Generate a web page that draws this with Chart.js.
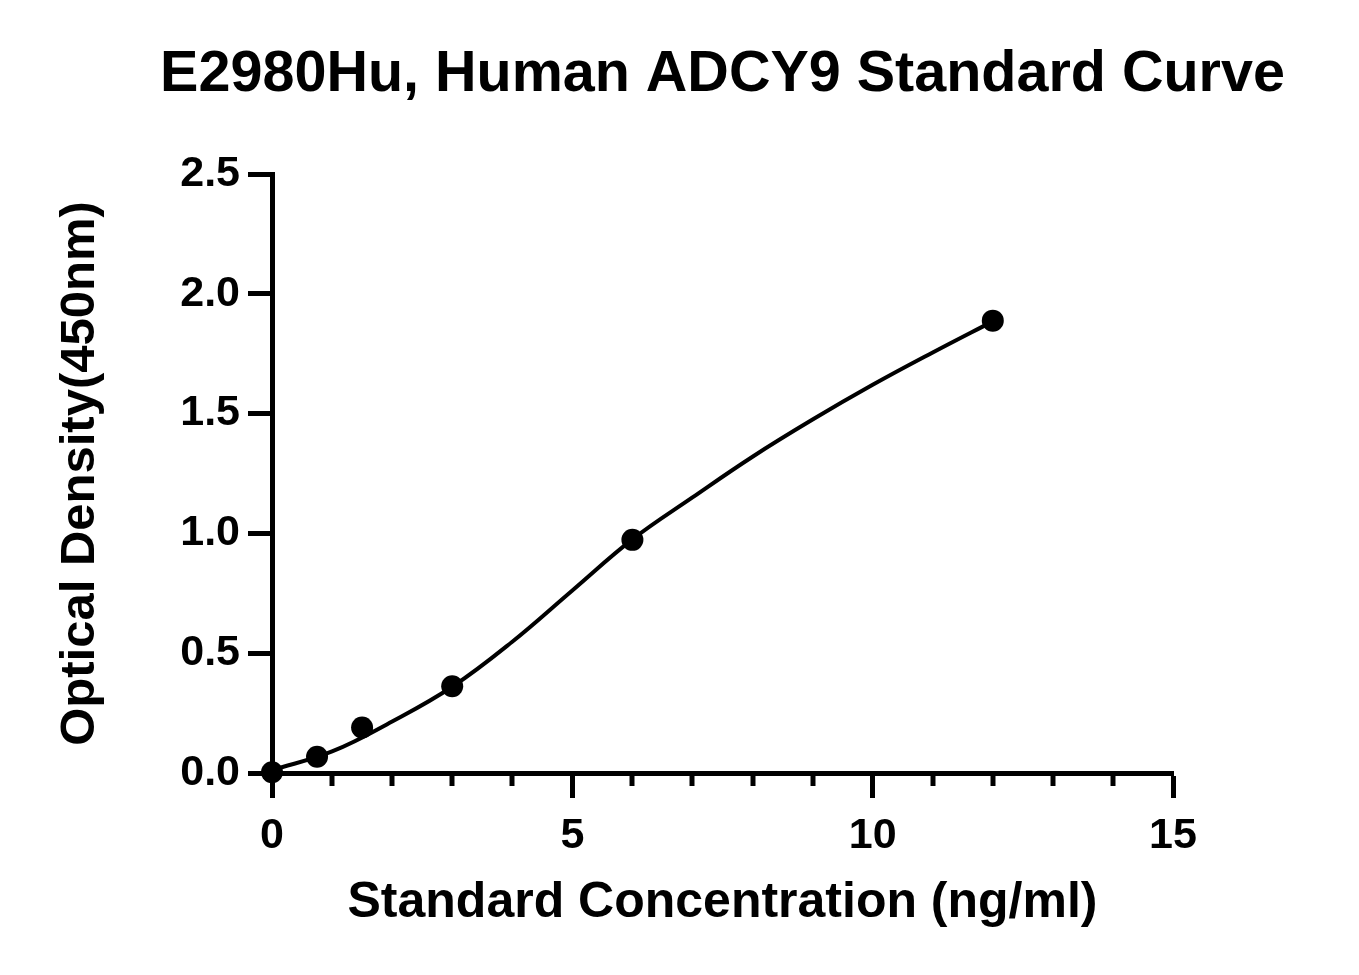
<!DOCTYPE html>
<html>
<head>
<meta charset="utf-8">
<script src="https://cdn.jsdelivr.net/npm/chart.js@4.4.1/dist/chart.umd.min.js"></script>
<style>
  html, body { margin: 0; padding: 0; background: #fff; }
  #wrap { width: 1359px; height: 975px; }
</style>
</head>
<body>
<div id="wrap"><canvas id="curveChart"></canvas></div>
<script>
// standard points
const concentrations = [0, 0.75, 1.5, 3, 6, 12];
const densities = [0.003, 0.068, 0.19, 0.362, 0.973, 1.888];
// fitted curve at whole ng/ml steps
const curveX = [0, 1, 2, 3, 4, 5, 6, 7, 8, 9, 10, 11, 12];
const curveY = [0.012, 0.09, 0.215, 0.36, 0.548, 0.762, 0.975, 1.15, 1.32, 1.475, 1.62, 1.755, 1.885];
const xTicks = [0, 5, 10, 15];
const xMinorTicks = [1, 2, 3, 4, 6, 7, 8, 9, 11, 12, 13, 14];
const yTicks = [0, 0.5, 1.0, 1.5, 2.0, 2.5];

const fontFamily = '"Liberation Sans", Arial, Helvetica, sans-serif';

// short ticks between the labelled ones on the x axis
const minorTicks = {
  id: 'minorTicks',
  afterDraw(chart) {
    const ctx = chart.ctx;
    const x = chart.scales.x;
    const y0 = chart.chartArea.bottom;
    ctx.save();
    ctx.strokeStyle = '#000';
    ctx.lineWidth = 5;
    xMinorTicks.forEach(function (v) {
      const px = Math.round(x.getPixelForValue(v));
      ctx.beginPath();
      ctx.moveTo(px, y0);
      ctx.lineTo(px, y0 + 13);
      ctx.stroke();
    });
    ctx.restore();
  }
};

const points = concentrations.map(function (c, i) {
  return { x: c, y: densities[i] };
});
const curve = curveX.map(function (c, i) {
  return { x: c, y: curveY[i] };
});

new Chart(document.getElementById('curveChart'), {
  type: 'line',
  data: {
    datasets: [{
      data: points,
      showLine: false,
      pointRadius: 11,
      pointBackgroundColor: '#000',
      pointBorderWidth: 0,
      clip: false
    }, {
      data: curve,
      borderColor: '#000',
      borderWidth: 4,
      pointRadius: 0,
      tension: 0.4,
      clip: false
    }]
  },
  options: {
    responsive: true,
    maintainAspectRatio: false,
    animation: false,
    devicePixelRatio: 1,
    // left padding pushes the title centre over the plot, as in the original
    layout: { padding: { left: 86, right: 0, top: 0, bottom: 0 } },
    plugins: {
      legend: { display: false },
      tooltip: { enabled: false },
      title: {
        display: true,
        text: 'E2980Hu, Human ADCY9 Standard Curve',
        color: '#000',
        font: { family: fontFamily, size: 57.5, weight: 'bold', lineHeight: 1.2 },
        padding: { top: 41, bottom: 64 }
      }
    },
    scales: {
      x: {
        type: 'linear',
        min: 0,
        max: 15,
        afterBuildTicks: function (scale) {
          scale.ticks = xTicks.map(function (v) { return { value: v }; });
        },
        afterFit: function (scale) { scale.height = 202; },
        ticks: {
          color: '#000',
          padding: 12,
          maxRotation: 0,
          font: { family: fontFamily, size: 43, weight: 'bold' }
        },
        grid: {
          drawOnChartArea: false,
          drawTicks: true,
          tickLength: 25,
          tickWidth: 5,
          tickColor: '#000'
        },
        border: { display: true, color: '#000', width: 5 },
        title: {
          display: true,
          text: 'Standard Concentration (ng/ml)',
          color: '#000',
          font: { family: fontFamily, size: 50, weight: 'bold', lineHeight: 1.2 },
          padding: { top: 0, bottom: 42 }
        }
      },
      y: {
        type: 'linear',
        min: 0,
        max: 2.5,
        afterBuildTicks: function (scale) {
          scale.ticks = yTicks.map(function (v) { return { value: v }; });
        },
        afterFit: function (scale) { scale.width = 186; },
        ticks: {
          color: '#000',
          padding: 8,
          font: { family: fontFamily, size: 43, weight: 'bold' },
          callback: function (v) { return Number(v).toFixed(1); }
        },
        grid: {
          drawOnChartArea: false,
          drawTicks: true,
          tickLength: 24,
          tickWidth: 5,
          tickColor: '#000'
        },
        border: { display: true, color: '#000', width: 5 },
        title: {
          display: true,
          text: 'Optical Density(450nm)',
          color: '#000',
          font: { family: fontFamily, size: 49, weight: 'bold', lineHeight: 1.2 },
          padding: { top: -35, bottom: 0 }
        }
      },
      // empty right-hand strip so the plot ends at x = 15 like the original
      yRight: {
        type: 'linear',
        position: 'right',
        afterFit: function (scale) { scale.width = 186; },
        ticks: { display: false },
        grid: { display: false },
        border: { display: false }
      }
    }
  },
  plugins: [minorTicks]
});
</script>
</body>
</html>
